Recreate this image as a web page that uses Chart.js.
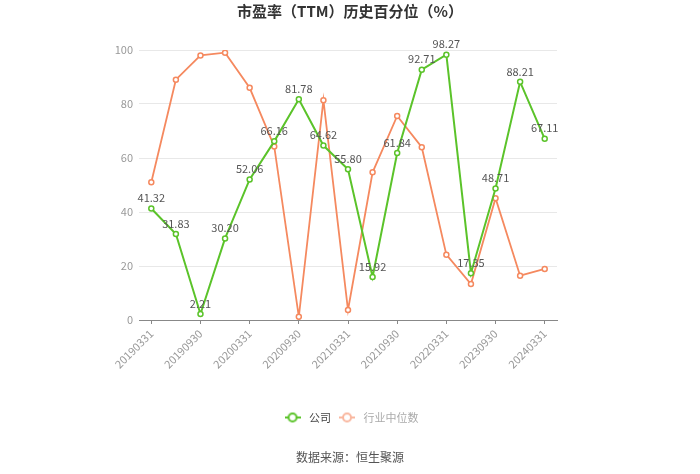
<!DOCTYPE html>
<html>
<head>
<meta charset="utf-8">
<script src="https://cdn.jsdelivr.net/npm/chart.js@4.4.0/dist/chart.umd.min.js"></script>
<style>
  html, body { margin: 0; padding: 0; background: #fff; }
  #wrap { position: relative; width: 700px; height: 474px; }
  #source { position: absolute; left: 0; width: 700px; top: 448px; text-align: center;
            font: 12px "Noto Sans CJK SC", sans-serif; color: #555; }
</style>
</head>
<body>
<div id="wrap">
  <canvas id="mainChart" width="700" height="474"></canvas>
  <div id="source">数据来源：恒生聚源</div>
</div>
<script>
const LABELS = ['20190331', '20190630', '20190930', '20191231', '20200331', '20200630',
    '20200930', '20201231', '20210331', '20210630', '20210930', '20211231', '20220331',
    '20230331', '20230930', '20231231', '20240331'];
const COMPANY = [41.32, 31.83, 2.21, 30.20, 52.06, 66.16, 81.78, 64.62, 55.80, 15.92,
    61.84, 92.71, 98.27, 17.35, 48.71, 88.21, 67.11];
const INDUSTRY = [51, 89, 98, 99, 86, 64.3, 1.2, 81.4, 3.7, 54.7, 75.6, 64, 24.2, 13.3,
    45.1, 16.4, 18.9];
const Y_TICKS = [0, 20, 40, 60, 80, 100];

const GREEN = '#5bc32a';
const ORANGE = '#f5895f';
const FONT = '"Noto Sans CJK SC", sans-serif';

function legendIcon(color) {
    const c = document.createElement('canvas');
    c.width = 16;
    c.height = 12;
    const ctx = c.getContext('2d');
    ctx.strokeStyle = color;
    ctx.lineWidth = 2;
    ctx.beginPath();
    ctx.moveTo(0, 6);
    ctx.lineTo(16, 6);
    ctx.stroke();
    ctx.fillStyle = '#fff';
    ctx.beginPath();
    ctx.arc(8, 6, 4, 0, Math.PI * 2);
    ctx.fill();
    ctx.stroke();
    return c;
}

const valueLabels = {
    id: 'valueLabels',
    afterDatasetsDraw(chart) {
        const ctx = chart.ctx;
        const meta = chart.getDatasetMeta(0);
        ctx.save();
        ctx.font = '11px ' + FONT;
        ctx.fillStyle = '#555';
        ctx.textAlign = 'center';
        ctx.textBaseline = 'bottom';
        meta.data.forEach((pt, i) => {
            ctx.fillText(COMPANY[i].toFixed(2), pt.x, pt.y - 5);
        });
        ctx.restore();
    }
};

function createChart() {
    const CTX = document.getElementById('mainChart').getContext('2d');
    return new Chart(CTX, {
        type: 'line',
        data: {
            labels: LABELS,
            datasets: [{
                label: '公司',
                data: COMPANY,
                borderColor: GREEN,
                backgroundColor: '#fff',
                borderWidth: 2,
                pointRadius: 2.5,
                pointBorderWidth: 1.5,
                pointBorderColor: GREEN,
                pointBackgroundColor: '#fff',
                tension: 0
            }, {
                label: '行业中位数',
                data: INDUSTRY,
                borderColor: ORANGE,
                backgroundColor: '#fff',
                borderWidth: 1.8,
                pointRadius: 2.5,
                pointBorderWidth: 1.5,
                pointBorderColor: ORANGE,
                pointBackgroundColor: '#fff',
                tension: 0
            }]
        },
        options: {
            responsive: false,
            animation: false,
            layout: { padding: { left: 0, right: 0, top: 0, bottom: 41 } },
            scales: {
                x: {
                    offset: true,
                    grid: { drawOnChartArea: false, drawTicks: true, tickLength: 4, color: '#888' },
                    border: { color: '#888' },
                    ticks: {
                        autoSkip: true,
                        maxTicksLimit: 9,
                        maxRotation: 45,
                        minRotation: 45,
                        color: '#999',
                        font: { size: 11, family: FONT }
                    },
                    afterFit(s) { s.height = 87; }
                },
                y: {
                    min: 0,
                    max: 100,
                    afterBuildTicks(s) { s.ticks = Y_TICKS.map(v => ({ value: v })); },
                    grid: { color: '#e8e8e8', drawTicks: false },
                    border: { display: false },
                    ticks: { color: '#999', padding: 6, font: { size: 11, family: FONT } },
                    afterFit(s) { s.width = 139; }
                },
                yRight: {
                    position: 'right',
                    grid: { display: false },
                    border: { display: false },
                    ticks: { display: false },
                    afterFit(s) { s.width = 143; }
                }
            },
            plugins: {
                title: {
                    display: true,
                    text: '市盈率（TTM）历史百分位（%）',
                    color: '#333',
                    padding: { top: 2, bottom: 30 },
                    font: { size: 15, weight: 'bold', family: FONT }
                },
                legend: {
                    position: 'bottom',
                    labels: {
                        usePointStyle: true,
                        pointStyleWidth: 22,
                        color: '#333',
                        font: { size: 11, family: FONT },
                        padding: 5,
                        generateLabels(chart) {
                            return chart.data.datasets.map((ds, i) => ({
                                text: ds.label,
                                datasetIndex: i,
                                pointStyle: legendIcon(i === 0 ? GREEN : '#f9b79f'),
                                fontColor: i === 0 ? '#444' : '#aaa',
                                hidden: false
                            }));
                        }
                    }
                },
                tooltip: { enabled: false }
            }
        },
        plugins: [valueLabels]
    });
}

createChart();
</script>
</body>
</html>
